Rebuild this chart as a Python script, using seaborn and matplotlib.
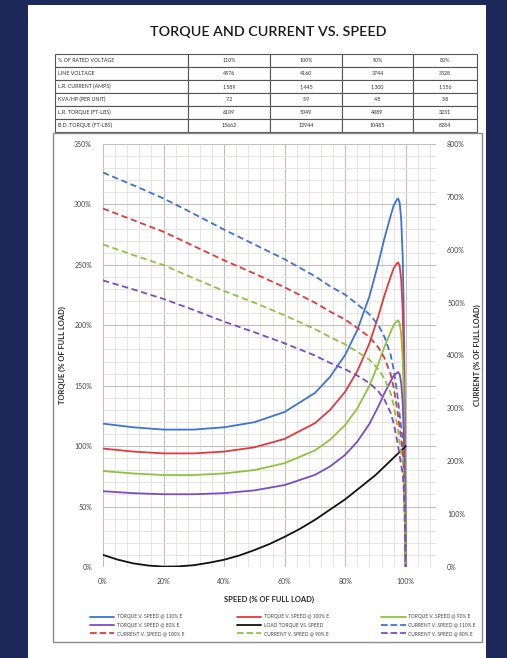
import numpy as np
import pandas as pd
import matplotlib
matplotlib.use("Agg")
import matplotlib.pyplot as plt
from matplotlib.patches import Rectangle
from matplotlib.lines import Line2D
from matplotlib.ticker import MultipleLocator, FuncFormatter
import seaborn as sns

sns.set_style("white")
plt.rcParams['font.family'] = ['Lato', 'DejaVu Sans']

# ---- data ----
table_rows = ["% OF RATED VOLTAGE", "LINE VOLTAGE", "L.R. CURRENT (AMPS)",
              "KVA/HP (PER UNIT)", "L.R. TORQUE (FT-LBS)", "B.D. TORQUE (FT-LBS)"]
rated_voltage = ["110%", "100%", "90%", "80%"]
line_voltage = ["4576", "4160", "3744", "3328"]
lr_current = ["1,589", "1,445", "1,300", "1,156"]
kva_hp = ["7.2", "5.9", "4.8", "3.8"]
lr_torque = ["6109", "5049", "4089", "3231"]
bd_torque = ["15662", "12944", "10485", "8284"]

speed = [0, 10, 20, 30, 40, 50, 60, 70, 75, 80, 84, 88, 91, 93, 95, 96, 97,
         97.5, 98, 98.5, 99, 99.3, 99.6, 99.8, 100]

torque_110 = [118.6, 115.6, 113.7, 113.7, 115.6, 119.8, 128.3, 144.0, 157.3, 175.5, 196.0,
              223.9, 251.7, 272.3, 290.4, 298.9, 303.7, 304.9, 301.3, 288.0, 256.5,
              217.8, 157.3, 96.8, 0]
torque_100 = [98, 95.5, 94, 94, 95.5, 99, 106, 119, 130, 145, 162, 185, 208, 225, 240,
              247, 251, 252, 249, 238, 212, 180, 130, 80, 0]
torque_90 = [79.4, 77.4, 76.1, 76.1, 77.4, 80.2, 85.9, 96.4, 105.3, 117.5, 131.2, 149.9,
             168.5, 182.3, 194.4, 200.1, 203.3, 204.1, 201.7, 192.8, 171.7, 145.8,
             105.3, 64.8, 0]
torque_80 = [62.7, 61.1, 60.2, 60.2, 61.1, 63.4, 67.8, 76.2, 83.2, 92.8, 103.7, 118.4,
             133.1, 144.0, 153.6, 158.1, 160.6, 161.3, 159.4, 152.3, 135.7, 115.2,
             83.2, 51.2, 0]

current_110 = [746, 722, 697, 668, 638, 610, 582, 550, 531, 515, 497, 478, 457, 435,
               402, 374, 336, 314, 288, 264, 242, 209, 143, 77, 0]
current_100 = [678, 656, 634, 607, 580, 555, 529, 500, 483, 468, 452, 435, 415, 395,
               365, 340, 305, 285, 262, 240, 220, 190, 130, 70, 0]
current_90 = [610, 590, 571, 546, 522, 500, 476, 450, 435, 421, 407, 392, 374, 356,
              329, 306, 275, 257, 236, 216, 198, 171, 117, 63, 0]
current_80 = [542, 525, 507, 486, 464, 444, 423, 400, 386, 374, 362, 348, 332, 316,
              292, 272, 244, 228, 210, 192, 176, 152, 104, 56, 0]

load_speed = [0, 5, 10, 15, 20, 25, 30, 35, 40, 45, 50, 55, 60, 65, 70, 75, 80,
              85, 90, 95, 100]
load_torque = [10, 6, 3, 1.2, 0.3, 0.5, 1.5, 3.5, 6, 9.5, 14, 19, 25, 31.5, 39,
               47.5, 56, 66, 76, 88, 100]

BLUE, RED, GREEN, PURPLE = '#3c74d4', '#e03a3c', '#8cc43c', '#7a4cc4'

W, H = 507, 658
fig = plt.figure(figsize=(W / 100, H / 100), dpi=100, facecolor='#1c275a')

# white page
fig.patches.append(Rectangle((28 / W, 0), (486 - 28) / W, (H - 5) / H,
                             transform=fig.transFigure, facecolor='white',
                             edgecolor='none', zorder=-2))
# frame round the chart
fig.patches.append(Rectangle((53 / W, 1 - 642 / H), (482 - 53) / W, (642 - 133) / H,
                             transform=fig.transFigure, facecolor='none',
                             edgecolor='#8a8a8a', lw=1.0, zorder=1))

fig.text(268 / W, 1 - 32 / H, "TORQUE AND CURRENT VS. SPEED", ha='center',
         va='center', fontsize=10.3, color='#1a1a1a', fontweight='semibold')

# table
ax_t = fig.add_axes([55 / W, 1 - 132 / H, (477 - 55) / W, (132 - 54) / H])
ax_t.axis('off')
cells = [[r] + v for r, v in zip(table_rows, [rated_voltage, line_voltage, lr_current,
                                            kva_hp, lr_torque, bd_torque])]
tbl = ax_t.table(cellText=cells, colWidths=[133, 82, 72, 71, 64], cellLoc='center',
                 bbox=[0, 0, 1, 1])
tbl.auto_set_font_size(False)
tbl.set_fontsize(3.8)
for (r, c), cell in tbl.get_celld().items():
    cell.set_edgecolor('#555555')
    cell.set_linewidth(0.8)
    cell.get_text().set_color('#333333')
    if c == 0:
        cell._loc = 'left'
        cell.get_text().set_ha('left')
        cell.PAD = 0.02

# chart
ax = fig.add_axes([103 / W, 1 - 567 / H, (436 - 103) / W, (567 - 144) / H])
ax.patch.set_alpha(0)
ax2 = ax.twinx()

torques = [(torque_110, BLUE), (torque_100, RED), (torque_90, GREEN), (torque_80, PURPLE)]
for vals, col in torques:
    sns.lineplot(x=speed, y=vals, ax=ax, color=col, lw=1.3, zorder=3)
sns.lineplot(x=load_speed, y=load_torque, ax=ax, color='#111111', lw=1.3, zorder=3)

currents = [(current_110, BLUE), (current_100, RED), (current_90, GREEN), (current_80, PURPLE)]
for vals, col in currents:
    sns.lineplot(x=speed, y=vals, ax=ax2, color=col, lw=1.3, zorder=3)
    ax2.lines[-1].set_dashes((3.5, 2))

ax.set_xlim(0, 110)
ax.set_ylim(0, 350)
ax2.set_ylim(0, 800)
ax.xaxis.set_major_locator(MultipleLocator(20))
ax.xaxis.set_minor_locator(MultipleLocator(4))
ax.yaxis.set_major_locator(MultipleLocator(50))
ax.yaxis.set_minor_locator(MultipleLocator(10))
ax2.yaxis.set_major_locator(MultipleLocator(100))
pct = FuncFormatter(lambda v, p: f"{v:.0f}%")
ax.xaxis.set_major_formatter(pct)
ax.yaxis.set_major_formatter(pct)
ax2.yaxis.set_major_formatter(pct)
ax.set_xticks([0, 20, 40, 60, 80, 100])
ax.grid(which='major', color='#c6bdbd', lw=0.8)
ax.grid(which='minor', color='#e4dfdf', lw=0.6)
ax.set_axisbelow(True)
for a in (ax, ax2):
    for s in a.spines.values():
        s.set_visible(False)
    a.tick_params(which='both', length=0, labelsize=5, colors='#444444', pad=8)

ax.set_xlabel("SPEED (% OF FULL LOAD)", fontsize=5.5, fontweight='bold', labelpad=8)
ax.set_ylabel("TORQUE (% OF FULL LOAD)", fontsize=5.5, fontweight='bold', labelpad=6)
ax2.set_ylabel("CURRENT (% OF FULL LOAD)", fontsize=5.5, fontweight='bold', labelpad=6)

# legend, filled column by column
entries = [
    ("TORQUE V. SPEED @ 110% E", BLUE, '-'),
    ("TORQUE V. SPEED @ 80% E", PURPLE, '-'),
    ("CURRENT V. SPEED @ 100% E", RED, '--'),
    ("TORQUE V. SPEED @ 100% E", RED, '-'),
    ("LOAD TORQUE VS. SPEED", '#111111', '-'),
    ("CURRENT V. SPEED @ 90% E", GREEN, '--'),
    ("TORQUE V. SPEED @ 90% E", GREEN, '-'),
    ("CURRENT V. SPEED @ 110% E", BLUE, '--'),
    ("CURRENT V. SPEED @ 80% E", PURPLE, '--'),
]
handles = [Line2D([], [], color=c, ls=ls, lw=1.3) for _, c, ls in entries]
fig.legend(handles, [e[0] for e in entries], ncol=3, loc='lower left',
           bbox_to_anchor=(88 / W, 1 - 638 / H, (478 - 88) / W, 32 / H),
           mode='expand', frameon=False, fontsize=3.5, handlelength=5,
           labelspacing=0.7, borderaxespad=0, handletextpad=0.6,
           labelcolor='#444444')

fig.savefig("out.png", dpi=100, facecolor=fig.get_facecolor())
